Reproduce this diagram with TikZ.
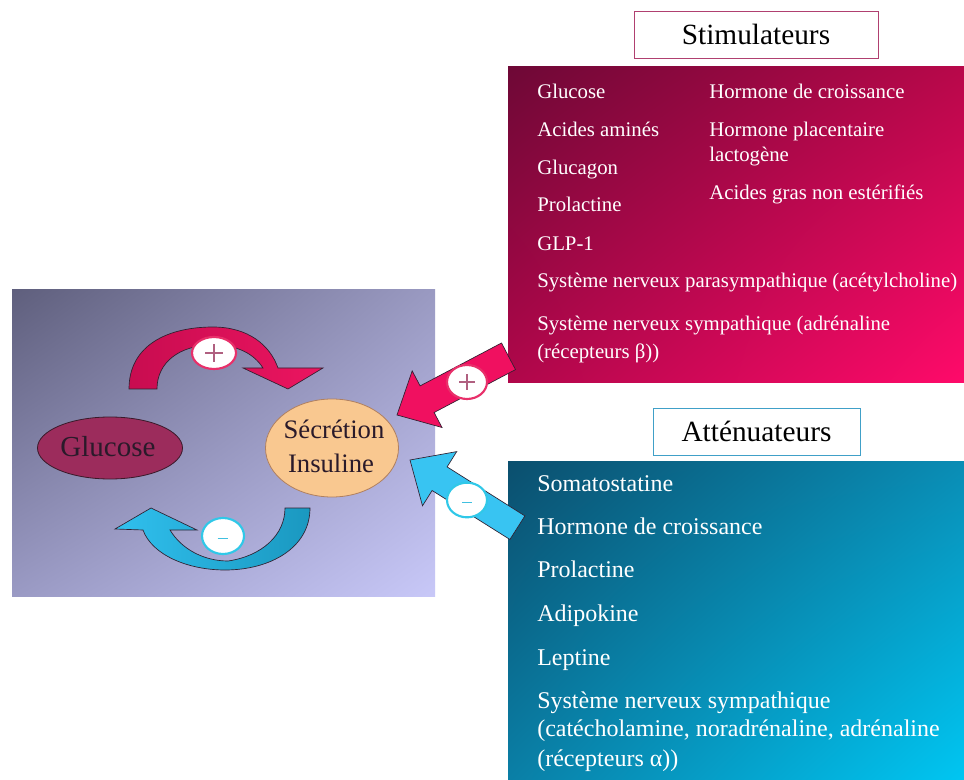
\documentclass[tikz,border=0pt]{standalone}
\usepackage{fontspec}
\setmainfont{Liberation Serif}
\usetikzlibrary{shapes.geometric,shadings}
\definecolor{panelUL}{HTML}{5F5F7D}
\definecolor{panelUR}{HTML}{9A9AC2}
\definecolor{panelLL}{HTML}{9A9AC4}
\definecolor{panelLR}{HTML}{C8C8F8}
\definecolor{stimUL}{HTML}{6E0836}
\definecolor{stimUR}{HTML}{B8084A}
\definecolor{stimLL}{HTML}{B0074A}
\definecolor{stimLR}{HTML}{FF0A6A}
\definecolor{attUL}{HTML}{0B4F6E}
\definecolor{attUR}{HTML}{0A8DB5}
\definecolor{attLL}{HTML}{0A7FA6}
\definecolor{attLR}{HTML}{00C6F2}
\definecolor{glucF}{HTML}{9C2C5C}
\definecolor{glucB}{HTML}{3A1A2A}
\definecolor{secrF}{HTML}{F9C890}
\definecolor{secrB}{HTML}{B08060}
\definecolor{pinkA}{HTML}{C80C50}
\definecolor{pinkB}{HTML}{EC1560}
\definecolor{pinkR}{HTML}{F01060}
\definecolor{cyanA}{HTML}{30C0EE}
\definecolor{cyanB}{HTML}{1A98C0}
\definecolor{cyanR}{HTML}{38C4F2}
\definecolor{outl}{HTML}{302030}
\definecolor{ringP}{HTML}{E8306A}
\definecolor{ringC}{HTML}{30C8E8}
\definecolor{signP}{HTML}{B06080}
\definecolor{signC}{HTML}{40C0E0}
\definecolor{titleP}{HTML}{B04070}
\definecolor{titleC}{HTML}{40A0C8}
\definecolor{darktext}{HTML}{2A1A2A}
\tikzset{
  pinktext/.style={anchor=base west, text=white, font=\fontsize{15.6}{18}\selectfont, inner sep=0pt},
  cyantext/.style={anchor=base west, text=white, font=\fontsize{18}{21}\selectfont, inner sep=0pt},
  titlebox/.style={fill=white, line width=0.6pt, minimum height=35.25pt, inner sep=0pt, font=\fontsize{22}{26}\selectfont},
  ring/.style={ellipse, fill=white, line width=1.6pt, inner sep=0pt},
  blockarrow/.style={draw=outl, line width=0.5pt},
  sign/.style={line width=0.8pt}
}
\begin{document}
\begin{tikzpicture}[x=0.75pt,y=-0.75pt]
\useasboundingbox (0,0) rectangle (964,780);
\fill[white] (0,0) rectangle (964,780);

% left panel
\shade[upper left=panelUL, upper right=panelUR, lower left=panelLL, lower right=panelLR] (12,290) rectangle (435,596);

% ellipses
\node[ellipse, draw=glucB, fill=glucF, line width=0.6pt, minimum width=108.75pt, minimum height=46.5pt, inner sep=0pt] (glucose) at (110,448) {};
\node[anchor=base, text=darktext, font=\fontsize{21.75}{24}\selectfont, inner sep=0pt] (glucosetxt) at (108,457) {Glucose};
\node[ellipse, draw=secrB, fill=secrF, line width=0.6pt, minimum width=99.75pt, minimum height=73.5pt, inner sep=0pt] (secretion) at (332,448) {};
\node[anchor=base, text=darktext, font=\fontsize{20}{24}\selectfont, inner sep=0pt] (secrtxt1) at (334,439) {Sécrétion};
\node[anchor=base, text=darktext, font=\fontsize{20}{24}\selectfont, inner sep=0pt] (secrtxt2) at (331,473) {Insuline};

% top curved arrow (Glucose -> Secretion)
\path[blockarrow, left color=pinkA, right color=pinkB]
  (129,389) .. controls (129,345) and (168,327) .. (213,327)
  .. controls (248,327) and (270,345) .. (278,368)
  -- (323,368) -- (288,389) -- (243,368) -- (263,368)
  .. controls (254,354) and (238,345) .. (213,345)
  .. controls (180,345) and (157,362) .. (157,389) -- cycle;
\node[ring, draw=ringP, minimum width=33pt, minimum height=24pt] (plustop) at (214,353) {};
\draw[sign, signP] ([xshift=-6.5pt]plustop.center) -- ([xshift=6.5pt]plustop.center);
\draw[sign, signP] ([yshift=-6.5pt]plustop.center) -- ([yshift=6.5pt]plustop.center);

% bottom curved arrow (Secretion -> Glucose)
\path[blockarrow, left color=cyanA, right color=cyanB]
  (310,508) .. controls (310,548) and (270,570) .. (225,570)
  .. controls (188,570) and (152,555) .. (143,530)
  -- (115,529) -- (151,508) -- (197,530) -- (170,530)
  .. controls (182,550) and (205,561) .. (228,561)
  .. controls (262,556) and (285,535) .. (285,508) -- cycle;
\node[ring, draw=ringC, minimum width=31.5pt, minimum height=27pt] (minusbot) at (223,536) {};
\draw[sign, signC] ([xshift=-4pt,yshift=-2pt]minusbot.center) -- ([xshift=4pt,yshift=-2pt]minusbot.center);

% Stimulateurs box
\shade[upper left=stimUL, upper right=stimUR, lower left=stimLL, lower right=stimLR] (508,67) rectangle (964,383);
\node[titlebox, draw=titleP, minimum width=183pt] (stimtitle) at (756,34.5) {Stimulateurs};
\node[pinktext] (s1) at (537,99) {Glucose};
\node[pinktext] (s2) at (537,137) {Acides aminés};
\node[pinktext] (s3) at (537,175) {Glucagon};
\node[pinktext] (s4) at (537,212) {Prolactine};
\node[pinktext] (s5) at (537,251) {GLP-1};
\node[pinktext] (s6) at (537,288) {Système nerveux parasympathique (acétylcholine)};
\node[pinktext] (s7) at (537,331) {Système nerveux sympathique (adrénaline};
\node[pinktext] (s8) at (537,359) {(récepteurs β))};
\node[pinktext] (r1) at (709,99) {Hormone de croissance};
\node[pinktext] (r2) at (709,137) {Hormone placentaire};
\node[pinktext] (r3) at (709,162) {lactogène};
\node[pinktext] (r4) at (709,200) {Acides gras non estérifiés};

% Attenuateurs box
\shade[upper left=attUL, upper right=attUR, lower left=attLL, lower right=attLR] (508,462) rectangle (964,780);
\node[titlebox, draw=titleC, minimum width=155.25pt] (atttitle) at (756.5,431.5) {Atténuateurs};
\node[cyantext] (a1) at (537,491) {Somatostatine};
\node[cyantext] (a2) at (537,534) {Hormone de croissance};
\node[cyantext] (a3) at (537,577) {Prolactine};
\node[cyantext] (a4) at (537,621) {Adipokine};
\node[cyantext] (a5) at (537,665) {Leptine};
\node[cyantext] (a6) at (537,708) {Système nerveux sympathique};
\node[cyantext] (a7) at (537,736) {(catécholamine, noradrénaline, adrénaline};
\node[cyantext] (a8) at (537,766) {(récepteurs α))};

% pink straight arrow (Stimulateurs -> Secretion)
\coordinate (ptip) at (397,415);
\path[blockarrow, fill=pinkR]
  (ptip) -- (412.2,370.9) -- (420.1,385.9) -- (501.5,343.0) -- (515.5,369.6)
  -- (434.1,412.5) -- (442.0,427.5) -- cycle;
\node[ring, draw=ringP, minimum width=30pt, minimum height=25.5pt] (plusright) at (467,382) {};
\draw[sign, signP] ([xshift=-6pt]plusright.center) -- ([xshift=6pt]plusright.center);
\draw[sign, signP] ([yshift=-6pt]plusright.center) -- ([yshift=6pt]plusright.center);

% cyan straight arrow (Attenuateurs -> Secretion)
\coordinate (ctip) at (410,460);
\path[blockarrow, fill=cyanR]
  (ctip) -- (456.7,451.6) -- (447.1,466.9) -- (524.9,515.9) -- (509.9,539.5)
  -- (432.1,490.5) -- (422.5,505.8) -- cycle;
\node[ring, draw=ringC, minimum width=30pt, minimum height=26pt] (minusright) at (467,500) {};
\draw[sign, signC] ([xshift=-3.5pt,yshift=-2pt]minusright.center) -- ([xshift=3.5pt,yshift=-2pt]minusright.center);
\end{tikzpicture}
\end{document}
